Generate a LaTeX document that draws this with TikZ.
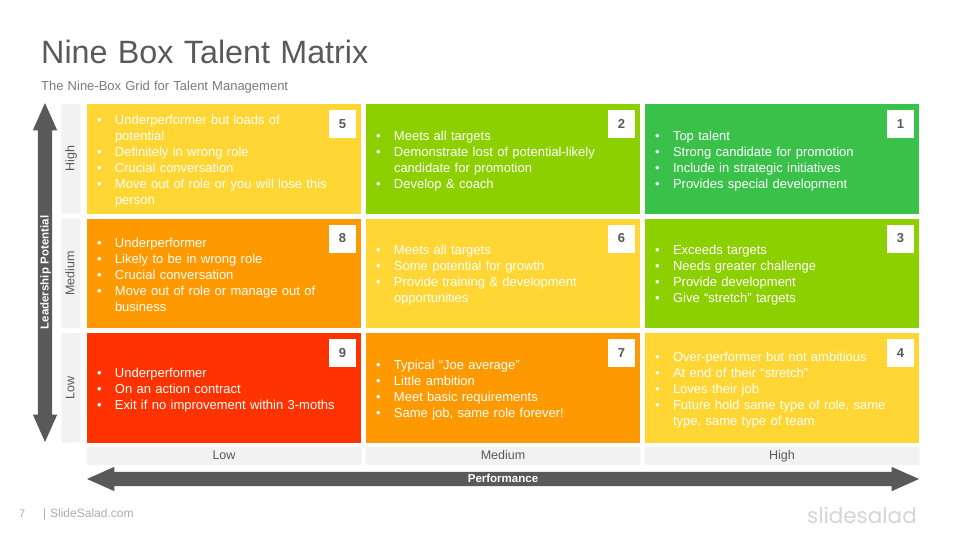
\documentclass[tikz,border=0pt]{standalone}
\usepackage{fontspec}
\setmainfont[WordSpace=1.15]{Liberation Sans}
\newfontfamily\logofont{Poppins}
\usetikzlibrary{shapes.arrows, positioning}
\definecolor{boxyellow}{HTML}{FFD633}
\definecolor{boxlime}{HTML}{8CD000}
\definecolor{boxgreen}{HTML}{39C14A}
\definecolor{boxorange}{HTML}{FF9900}
\definecolor{boxred}{HTML}{FF3300}
\definecolor{darkgrey}{HTML}{595959}
\definecolor{palegrey}{HTML}{F2F2F2}
\newcommand{\itm}[1]{\makebox[18pt][l]{\textbullet}#1}
\newcommand{\cnt}[1]{\hspace*{18pt}#1}
\tikzstyle{cell} = [rectangle, minimum width=274pt, minimum height=109.5pt, inner sep=0pt, outer sep=0pt, text width=254pt, align=left, text=white, font=\fontsize{13}{16}\selectfont, execute at begin node={\rule{0pt}{13.5pt}}]
\tikzstyle{numbox} = [rectangle, fill=white, minimum width=27pt, minimum height=28pt, inner sep=0pt, outer sep=0pt, text=darkgrey, font=\fontsize{13}{16}\selectfont\bfseries]
\tikzstyle{rowlabel} = [rectangle, rounded corners=2pt, fill=palegrey, minimum width=109.5pt, minimum height=19pt, inner sep=0pt, outer sep=0pt, rotate=90, text=darkgrey, text height=9pt, text depth=2.5pt, font=\fontsize{12.5}{15}\selectfont]
\tikzstyle{collabel} = [rectangle, rounded corners=2pt, fill=palegrey, minimum width=275pt, minimum height=18pt, inner sep=0pt, outer sep=0pt, text=darkgrey, text height=9pt, text depth=2.5pt, font=\fontsize{12.5}{15}\selectfont]
\tikzstyle{axis} = [double arrow, fill=darkgrey, inner sep=0pt, outer sep=0pt, minimum width=24pt, text height=10.5pt, text depth=3.5pt, double arrow head extend=5pt, double arrow tip angle=48, text=white, font=\fontsize{11.5}{14}\selectfont\bfseries]
\begin{document}
\begin{tikzpicture}[x=1pt, y=1pt]
\useasboundingbox (0,0) rectangle (960,-540);

% Titles
\node (title) [anchor=west, inner sep=0pt, text=darkgrey, font=\fontsize{32.3}{38}\selectfont] at (41,-52) {Nine Box Talent Matrix};
\node (subtitle) [anchor=west, inner sep=0pt, text=darkgrey!80, font=\fontsize{13}{15}\selectfont] at (41,-87) {The Nine-Box Grid for Talent Management};

% Boxes
\node (box5) [cell, fill=boxyellow, anchor=north west] at (87,-104) {\itm{Underperformer but loads of}\\\cnt{potential}\\\itm{Definitely in wrong role}\\\itm{Crucial conversation}\\\itm{Move out of role or you will lose this}\\\cnt{person}};
\node (box2) [cell, fill=boxlime, right=5pt of box5] {\itm{Meets all targets}\\\itm{Demonstrate lost of potential-likely}\\\cnt{candidate for promotion}\\\itm{Develop \& coach}};
\node (box1) [cell, fill=boxgreen, right=5pt of box2] {\itm{Top talent}\\\itm{Strong candidate for promotion}\\\itm{Include in strategic initiatives}\\\itm{Provides special development}};
\node (box8) [cell, fill=boxorange, below=5pt of box5] {\itm{Underperformer}\\\itm{Likely to be in wrong role}\\\itm{Crucial conversation}\\\itm{Move out of role or manage out of}\\\cnt{business}};
\node (box6) [cell, fill=boxyellow, right=5pt of box8] {\itm{Meets all targets}\\\itm{Some potential for growth}\\\itm{Provide training \& development}\\\cnt{opportunities}};
\node (box3) [cell, fill=boxlime, right=5pt of box6] {\itm{Exceeds targets}\\\itm{Needs greater challenge}\\\itm{Provide development}\\\itm{Give “stretch” targets}};
\node (box9) [cell, fill=boxred, below=5pt of box8] {\itm{Underperformer}\\\itm{On an action contract}\\\itm{Exit if no improvement within 3-moths}};
\node (box7) [cell, fill=boxorange, right=5pt of box9] {\itm{Typical “Joe average”}\\\itm{Little ambition}\\\itm{Meet basic requirements}\\\itm{Same job, same role forever!}};
\node (box4) [cell, fill=boxyellow, right=5pt of box7] {\itm{Over-performer but not ambitious}\\\itm{At end of their “stretch”}\\\itm{Loves their job}\\\itm{Future hold same type of role, same}\\\cnt{type, same type of team}};

% Numbers
\foreach \n/\r in {5/box5, 2/box2, 1/box1, 8/box8, 6/box6, 3/box3, 9/box9, 7/box7, 4/box4}
  \node (num\n) [numbox, below left=6pt and 5pt of \r.north east] {\n};

% Row and column labels
\node (rowhigh) [rowlabel, left=6.5pt of box5.west, anchor=south] {High};
\node (rowmed) [rowlabel, left=6.5pt of box8.west, anchor=south] {Medium};
\node (rowlow) [rowlabel, left=6.5pt of box9.west, anchor=south] {Low};
\node (collow) [collabel, below=4.5pt of box9] {Low};
\node (colmed) [collabel, below=4.5pt of box7] {Medium};
\node (colhigh) [collabel, below=4.5pt of box4] {High};

% Axes
\node (perf) [axis, minimum height=832pt] at (503,-479) {Performance};
\node (lead) [axis, minimum height=339pt, rotate=90] at (45,-272.5) {Leadership Potential};

% Footer
\node (page) [anchor=west, inner sep=0pt, text=darkgrey!50, font=\fontsize{11}{13}\selectfont] at (19,-514) {7};
\node (site) [anchor=west, inner sep=0pt, text=darkgrey!50, font=\fontsize{12}{13}\selectfont] at (43,-514) {| SlideSalad.com};
\node (logo) [anchor=east, inner sep=0pt, text=darkgrey!25, font=\logofont\fontsize{21.5}{28}\selectfont] at (917,-515) {slidesalad};

\end{tikzpicture}
\end{document}
